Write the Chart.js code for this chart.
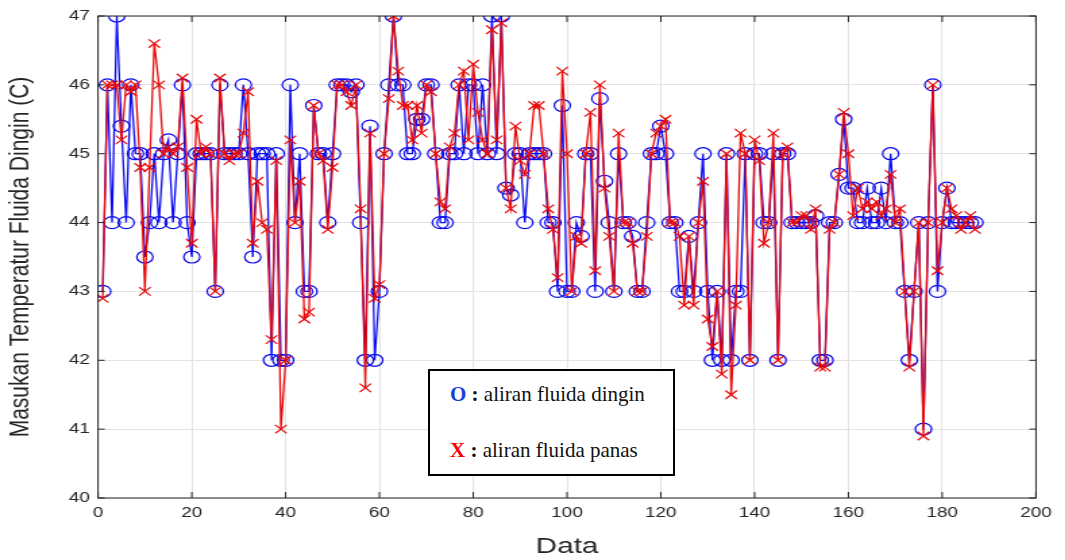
<!DOCTYPE html>
<html>
<head>
<meta charset="utf-8">
<script src="https://cdn.jsdelivr.net/npm/chart.js@4.4.0/dist/chart.umd.min.js"></script>
<style>
  body { margin: 0; background: #fff; overflow: hidden; }
  /* the original figure is stretched sideways, so draw narrower and scale in x */
  #wrap { position: absolute; left: 0; top: 0; width: 789px; height: 560px; transform: scaleX(1.35); transform-origin: 0 0; }
  #legendBox { position: absolute; left: 428px; top: 369px; width: 243px; height: 103px; border: 2px solid #000; background: #fff;
    font-family: "Liberation Serif", "Times New Roman", serif; font-size: 21px; color: #111; }
  .row { position: absolute; left: 20px; line-height: 24px; white-space: nowrap; }
  .o { color: #1a3fd6; font-weight: bold; }
  .x { color: #ff0000; font-weight: bold; }
  .c { font-weight: bold; }
</style>
</head>
<body>
<div id="wrap"><canvas id="chart" width="789" height="560"></canvas></div>
<div id="legendBox">
  <div class="row" style="top:11px"><span class="o">O</span> <span class="c">:</span> aliran fluida dingin</div>
  <div class="row" style="top:67px"><span class="x">X</span> <span class="c">:</span> aliran fluida panas</div>
</div>
<script>
// Cold fluid inlet temperature (blue circles)
let dinginVals = [
  43, 46, 44, 47, 45.4, 44, 46, 45, 45, 43.5,
  44, 45, 44, 45, 45.2, 44, 45, 46, 44, 43.5,
  45, 45, 45, 45, 43, 46, 45, 45, 45, 45,
  46, 45, 43.5, 45, 45, 45, 42, 45, 42, 42,
  46, 44, 45, 43, 43, 45.7, 45, 45, 44, 45,
  46, 46, 46, 45.9, 46, 44, 42, 45.4, 42, 43,
  45, 46, 47, 46, 46, 45, 45, 45.5, 45.5, 46,
  46, 45, 44, 44, 45, 45, 46, 45, 46, 46,
  45, 46, 45, 47, 45, 47, 44.5, 44.4, 45, 45,
  44, 45, 45, 45, 45, 44, 44, 43, 45.7, 43,
  43, 44, 43.8, 45, 45, 43, 45.8, 44.6, 44, 43,
  45, 44, 44, 43.8, 43, 43, 44, 45, 45, 45.4,
  45, 44, 44, 43, 43, 43.8, 43, 44, 45, 43,
  42, 43, 42, 45, 42, 43, 43, 45, 42, 45,
  45, 44, 44, 45, 42, 45, 45, 44, 44, 44,
  44, 44, 44.1, 42, 42, 44, 44, 44.7, 45.5, 44.5,
  44.5, 44, 44, 44.5, 44, 44, 44.5, 44, 45, 44,
  44, 43, 42, 43, 44, 41, 44, 46, 43, 44,
  44.5, 44, 44, 44, 44, 44, 44
];

// Hot fluid (red crosses)
let panasVals = [
  42.9, 46, 46, 46, 45.2, 46, 45.9, 46, 44.8, 43,
  44.8, 46.6, 46, 45, 45.1, 45, 45.1, 46.1, 44.8, 43.7,
  45.5, 45, 45.1, 45, 43, 46.1, 45, 44.9, 45, 45,
  45.3, 45.9, 43.7, 44.6, 44, 43.9, 42.3, 44.9, 41, 42,
  45.2, 44, 44.6, 42.6, 42.7, 45.7, 45, 44.9, 43.9, 44.8,
  46, 46, 45.9, 45.7, 46, 44.2, 41.6, 45.3, 42.9, 43.1,
  45, 45.8, 47, 46.2, 45.7, 45.7, 45.2, 45.7, 45.3, 46,
  45.9, 45, 44.3, 44.2, 45.1, 45.3, 46, 46.2, 45.2, 46.3,
  45.6, 45.2, 45, 46.8, 45.2, 46.9, 44.5, 44.2, 45.4, 44.9,
  44.7, 45, 45.7, 45.7, 45, 44.2, 43.9, 43.2, 46.2, 45,
  43, 43.8, 43.7, 45, 45.6, 43.3, 46, 44.5, 43.8, 43,
  45.3, 44, 44, 43.7, 43, 43, 43.8, 45, 45.3, 45.4,
  45.5, 44, 44, 43.8, 42.8, 43.8, 42.8, 44, 44.6, 42.6,
  42.2, 43, 41.8, 45, 41.5, 42.8, 45.3, 45, 42, 45.2,
  44.9, 43.7, 44, 45.3, 42, 45, 45.1, 44, 44, 44.1,
  44.1, 43.9, 44.2, 41.9, 41.9, 43.9, 44, 44.7, 45.6, 45,
  44.1, 44.5, 44.2, 44.3, 44.2, 44.3, 44.1, 44.2, 44.7, 44,
  44.2, 43, 41.9, 43, 44, 40.9, 44, 46, 43.3, 44,
  44.5, 44.2, 44.1, 43.9, 44, 44.1, 43.9
];

let xTicks = [0, 20, 40, 60, 80, 100, 120, 140, 160, 180, 200];
let yTicks = [40, 41, 42, 43, 44, 45, 46, 47];

function toPoints(vals) {
  return vals.map(function(v, i) { return { x: i + 1, y: v }; });
}

// MATLAB style box with inward ticks on all four sides
let boxPlugin = {
  id: 'box',
  afterDraw: function(chart) {
    let ctx = chart.ctx;
    let a = chart.chartArea;
    let xs = chart.scales.x, ys = chart.scales.y;
    ctx.save();
    ctx.strokeStyle = '#262626';
    ctx.lineWidth = 1;
    ctx.strokeRect(a.left, a.top, a.right - a.left, a.bottom - a.top);
    ctx.beginPath();
    xTicks.forEach(function(t) {
      let px = xs.getPixelForValue(t);
      ctx.moveTo(px, a.bottom); ctx.lineTo(px, a.bottom - 6);
      ctx.moveTo(px, a.top); ctx.lineTo(px, a.top + 6);
    });
    yTicks.forEach(function(t) {
      let py = ys.getPixelForValue(t);
      ctx.moveTo(a.left, py); ctx.lineTo(a.left + 5, py);
      ctx.moveTo(a.right, py); ctx.lineTo(a.right - 5, py);
    });
    ctx.stroke();
    ctx.restore();
  }
};

let ctx = document.getElementById('chart').getContext('2d');
let myChart = new Chart(ctx, {
  type: 'line',
  data: {
    datasets: [{
      label: 'aliran fluida panas',
      data: toPoints(panasVals),
      borderColor: '#e80808',
      borderWidth: 1.3,
      pointStyle: 'crossRot',
      pointRadius: 6,
      pointBorderColor: '#e80808',
      pointBorderWidth: 1.2,
      fill: false,
      tension: 0,
      order: 0
    }, {
      label: 'aliran fluida dingin',
      data: toPoints(dinginVals),
      borderColor: '#0a0af0',
      borderWidth: 1.3,
      pointStyle: 'circle',
      pointRadius: 6,
      pointBackgroundColor: 'rgba(0,0,0,0)',
      pointBorderColor: '#0a0af0',
      pointBorderWidth: 1.2,
      fill: false,
      tension: 0,
      order: 1
    }]
  },
  options: {
    responsive: false,
    animation: false,
    layout: { padding: { left: 0, right: 21.6, top: 16, bottom: 0 } },
    plugins: { legend: { display: false }, tooltip: { enabled: false } },
    scales: {
      x: {
        type: 'linear',
        min: 0, max: 200,
        afterFit: function(s) { s.height = 62; },
        afterBuildTicks: function(s) { s.ticks = xTicks.map(function(v) { return { value: v }; }); },
        ticks: { color: '#262626', padding: 7, font: { family: 'Liberation Sans', size: 14 } },
        grid: { color: '#e3e3e3', drawTicks: false },
        border: { display: false },
        title: { display: true, text: 'Data', color: '#262626', padding: { top: 0, bottom: 0 },
          font: { family: 'Liberation Sans', size: 22 } }
      },
      y: {
        min: 40, max: 47,
        afterFit: function(s) { s.width = 72.6; },
        afterBuildTicks: function(s) { s.ticks = yTicks.map(function(v) { return { value: v }; }); },
        ticks: { color: '#262626', padding: 6, font: { family: 'Liberation Sans', size: 14 } },
        grid: { color: '#e3e3e3', drawTicks: false },
        border: { display: false },
        title: { display: true, text: 'Masukan Temperatur Fluida Dingin (C)', color: '#262626', padding: { top: 3, bottom: 0 },
          font: { family: 'Liberation Sans', size: 21 } }
      }
    }
  },
  plugins: [boxPlugin]
});
</script>
</body>
</html>
